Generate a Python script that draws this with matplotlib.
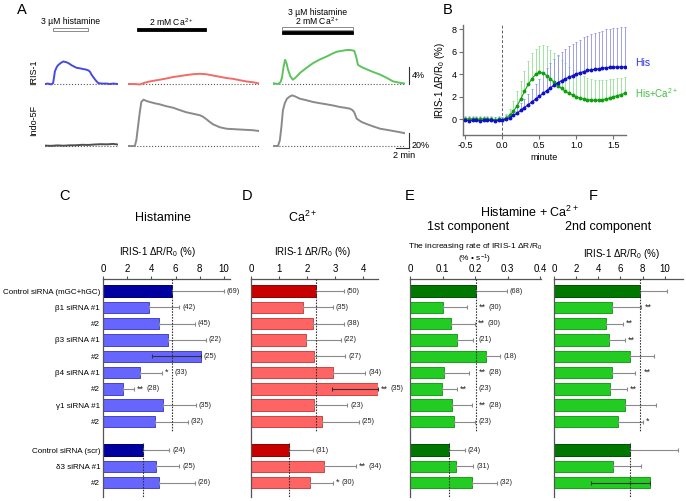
import numpy as np
import matplotlib
matplotlib.use('Agg')
import matplotlib.pyplot as plt
from matplotlib.transforms import blended_transform_factory
from matplotlib.patches import Rectangle

plt.rcParams['font.family'] = ['Liberation Sans', 'DejaVu Sans']
plt.rcParams['mathtext.fontset'] = 'custom'
plt.rcParams['mathtext.rm'] = 'Liberation Sans'
plt.rcParams['mathtext.it'] = 'Liberation Sans:italic'
plt.rcParams['mathtext.default'] = 'regular'

# ---------------- Panel A data (time in min, value in %) ----------------
his_iris_t = [0, 0.5, 1.0, 1.3, 1.45, 1.6, 1.9, 2.15, 2.6, 2.96, 3.5, 3.9, 4.3, 4.7, 5.1, 5.6, 6.2, 6.6, 7.0, 7.3, 7.5, 7.8, 8.1, 8.4, 8.6, 9.2, 9.9, 10.5, 11.0, 11.7]
his_iris_v = [0, 0.1, -0.1, 0.2, 1.5, 3.0, 4.0, 4.5, 5.0, 5.3, 5.1, 4.8, 4.4, 4.1, 3.8, 3.7, 3.5, 3.4, 3.2, 2.8, 2.2, 1.6, 1.0, 0.5, 0.2, 0.1, 0.1, 0.0, 0.1, 0.0]
his_indo_t = [0, 1, 2, 3, 4, 5, 6, 7, 8, 9, 10, 11, 11.7]
his_indo_v = [0.5, 0.2, 0.8, 0.4, 0.9, 1.0, 1.6, 1.4, 2.0, 2.4, 2.2, 2.8, 2.0]

ca_iris_t = [0, 1.0, 1.9, 2.7, 3.5, 4.3, 5.1, 6.2, 7.3, 8.3, 9.4, 10.5, 11.6, 12.6, 13.7, 14.8, 15.9, 17.0, 18.0, 19.1, 20.2, 21.2]
ca_iris_v = [0, 0, -0.1, 0.3, 0.6, 0.8, 1.0, 1.3, 1.65, 1.85, 2.1, 2.3, 2.4, 2.3, 2.0, 1.7, 1.4, 1.2, 0.9, 0.6, 0.4, 0.1]
ca_indo_t = [0, 0.7, 1.1, 1.35, 1.6, 1.9, 2.15, 2.5, 3.0, 3.5, 4.3, 5.1, 6.2, 7.3, 8.3, 9.4, 10.5, 11.6, 12.1, 12.6, 13.2, 13.7, 14.8, 15.9, 17.0, 18.0, 19.1, 20.2, 21.1]
ca_indo_v = [0, 0, 0, 8, 25, 45, 58.7, 61.8, 60, 58.7, 57, 55.6, 53, 51, 48, 45, 43, 41, 39, 36, 32, 29, 25, 23, 22.5, 22, 21.5, 21, 20]

mix_iris_t = [0, 0.8, 1.2, 1.45, 1.7, 1.95, 2.2, 2.4, 2.8, 3.2, 3.7, 4.35, 5.4, 6.45, 7.6, 8.7, 9.5, 10.3, 11.1, 11.9, 12.5, 13.1, 13.4, 13.7, 14.4, 15.2, 16.2, 17.3, 18.4, 19.4, 20.4, 21.3]
mix_iris_v = [0.2, 0, 0.4, 1.5, 4.0, 5.7, 4.8, 3.5, 1.8, 1.0, 1.6, 2.6, 3.8, 4.9, 5.8, 6.5, 7.1, 7.6, 7.8, 8.0, 8.0, 7.8, 6.5, 4.5, 3.9, 3.4, 2.8, 2.2, 1.4, 0.6, 0.3, 0.1]
mix_indo_t = [0, 0.8, 1.1, 1.35, 1.6, 1.9, 2.25, 2.7, 3.1, 3.6, 4.35, 5.4, 6.45, 7.6, 8.7, 9.7, 10.8, 11.6, 12.4, 12.8, 13.1, 13.5, 14.3, 15.2, 16.2, 17.3, 18.4, 19.4, 20.4, 21.3]
mix_indo_v = [0, 0, 7.5, 25, 47.5, 57, 63, 66, 67.5, 66, 63, 61, 58.7, 57, 55.5, 54, 52, 51, 49.8, 48, 45, 36.4, 32, 29, 26, 23, 21.5, 20, 18.5, 17]

# ---------------- Panel B data ----------------
b_time = [-0.50, -0.45, -0.40, -0.35, -0.30, -0.25, -0.20, -0.15, -0.10, -0.05, 0.00,
          0.05, 0.10, 0.15, 0.20, 0.25, 0.30, 0.35, 0.40, 0.45, 0.50, 0.55, 0.60, 0.65,
          0.70, 0.75, 0.80, 0.85, 0.90, 0.95, 1.00, 1.05, 1.10, 1.15, 1.20, 1.25, 1.30,
          1.35, 1.40, 1.45, 1.50, 1.55, 1.60, 1.65]
his_mean = [-0.1, -0.12, -0.08, -0.1, -0.12, -0.1, -0.08, -0.1, -0.12, -0.1, -0.08,
            0.0, 0.15, 0.35, 0.55, 0.8, 1.05, 1.3, 1.55, 1.8, 2.05, 2.3, 2.55, 2.8,
            3.05, 3.25, 3.45, 3.6, 3.75, 3.9, 4.05, 4.15, 4.25, 4.35, 4.4, 4.45, 4.5,
            4.55, 4.6, 4.62, 4.65, 4.65, 4.66, 4.67]
his_sem = [0.3, 0.3, 0.3, 0.3, 0.3, 0.3, 0.3, 0.3, 0.3, 0.3, 0.3,
           0.35, 0.35, 0.45, 0.55, 0.65, 0.75, 0.95, 1.15, 1.35, 1.55, 1.8, 2.05, 2.2,
           2.35, 2.45, 2.55, 2.65, 2.75, 2.8, 2.85, 2.95, 3.05, 3.1, 3.2, 3.25, 3.3,
           3.35, 3.4, 3.43, 3.45, 3.5, 3.54, 3.53]
hisca_mean = [0.05, 0.0, 0.05, 0.02, 0.0, 0.05, 0.02, 0.0, -0.02, 0.0, -0.02,
              0.1, 0.35, 0.7, 1.2, 1.8, 2.5, 3.1, 3.6, 4.0, 4.2, 4.1, 3.9, 3.6,
              3.3, 3.0, 2.75, 2.5, 2.3, 2.15, 2.0, 1.9, 1.8, 1.75, 1.7, 1.7, 1.7,
              1.75, 1.8, 1.9, 2.0, 2.1, 2.2, 2.3]
hisca_sem = [0.25, 0.25, 0.25, 0.25, 0.25, 0.25, 0.25, 0.25, 0.25, 0.25, 0.25,
             0.4, 0.55, 0.9, 1.3, 1.6, 1.8, 2.1, 2.3, 2.3, 2.35, 2.5, 2.6, 2.6,
             2.6, 2.6, 2.55, 2.5, 2.4, 2.25, 2.15, 2.1, 2.05, 1.95, 1.9, 1.8, 1.8,
             1.75, 1.7, 1.65, 1.6, 1.55, 1.5, 1.5]

# ---------------- Panels C-F data ----------------
categories = ["Control siRNA (mGC+hGC)", "\u03b21 siRNA #1", "#2", "\u03b23 siRNA #1", "#2",
              "\u03b24 siRNA #1", "#2", "\u03b31 siRNA #1", "#2",
              "Control siRNA (scr)", "\u03b43 siRNA #1", "#2"]

hist_val = [5.69, 3.79, 4.64, 5.36, 8.1, 3.08, 1.62, 5.0, 4.29, 3.27, 4.37, 4.64]
hist_err = [4.31, 2.51, 2.96, 3.14, -4.04, 1.82, 0.91, 2.66, 2.71, 2.2, 1.93, 2.96]
hist_n = [69, 42, 45, 22, 25, 33, 28, 35, 32, 24, 25, 26]
hist_sig = ["", "", "", "", "", "*", "**", "", "", "", "", ""]

ca_val = [2.32, 1.85, 2.22, 1.96, 2.26, 2.93, 4.53, 2.25, 2.53, 1.34, 2.59, 2.09]
ca_err = [0.99, 1.06, 1.09, 1.24, 1.11, 1.15, -1.65, 1.19, 1.32, 0.86, 1.15, 0.82]
ca_n = [50, 35, 38, 22, 27, 34, 35, 23, 25, 31, 34, 30]
ca_sig = ["", "", "", "", "", "", "**", "", "", "", "**", "*"]

rate_val = [0.203, 0.103, 0.125, 0.146, 0.234, 0.106, 0.098, 0.128, 0.136, 0.12, 0.14, 0.19]
rate_err = [0.094, 0.073, 0.075, 0.049, 0.043, 0.074, 0.046, 0.062, 0.064, 0.049, 0.055, 0.077]
rate_n = [68, 30, 30, 21, 18, 28, 23, 28, 23, 24, 31, 32]
rate_sig = ["", "**", "**", "", "", "**", "**", "**", "", "", "", ""]

second_val = [7.8, 5.2, 4.74, 4.98, 6.9, 5.28, 5.1, 6.4, 5.74, 6.9, 5.35, 8.65]
second_err = [2.4, 2.7, 1.51, 1.42, 2.1, 2.02, 1.5, 2.85, 2.31, 4.3, 2.55, -5.35]
second_sig = ["", "**", "**", "**", "", "**", "**", "", "*", "", "", ""]

# ---------------- figure ----------------
W, H = 686, 501
fig = plt.figure(figsize=(W / 100, H / 100), dpi=100)


def px_box(x0, y0, x1, y1):
    return [x0 / W, 1 - y1 / H, (x1 - x0) / W, (y1 - y0) / H]


ov = fig.add_axes([0, 0, 1, 1], zorder=10)
ov.set_xlim(0, W)
ov.set_ylim(H, 0)
ov.axis('off')

# ---------- Panel A ----------
PX_PER_MIN = 6.2
cols = [
    (45, his_iris_t, his_iris_v, '#4848e6', his_indo_t, his_indo_v, '#505050'),
    (128, ca_iris_t, ca_iris_v, '#f26a6a', ca_indo_t, ca_indo_v, '#8a8a8a'),
    (273, mix_iris_t, mix_iris_v, '#5cc45c', mix_indo_t, mix_indo_v, '#8a8a8a'),
]
iris_axes, indo_axes = [], []
for x0, it, iv, ic, gt, gv, gc in cols:
    dur = it[-1]
    x1 = x0 + dur * PX_PER_MIN
    a1 = fig.add_axes(px_box(x0, 36, x1, 92))
    a1.set_xlim(0, dur)
    a1.set_ylim(-(92 - 84) / 4.25, (84 - 36) / 4.25)
    a1.axhline(0, color='#555555', ls=':', lw=0.8)
    a1.plot(it, iv, color=ic, lw=1.4)
    a1.axis('off')
    a2 = fig.add_axes(px_box(x0, 92, x1, 152))
    a2.set_xlim(0, dur)
    a2.set_ylim(-(152 - 146) / 0.75, (146 - 92) / 0.75)
    a2.axhline(0, color='#555555', ls=':', lw=0.8)
    a2.plot(gt, gv, color=gc, lw=1.4)
    a2.axis('off')
    iris_axes.append(a1)
    indo_axes.append(a2)


def stim_bar(ax, t0, t1, y0, y1, face, edge):
    tr = blended_transform_factory(ax.transData, ov.transData)
    ax.add_patch(Rectangle((t0, y0), t1 - t0, y1 - y0, transform=tr, facecolor=face,
                           edgecolor=edge, lw=0.6, clip_on=False))
    return tr


tr = stim_bar(iris_axes[0], 1.3, 6.9, 27.5, 30.5, 'white', '#777777')
iris_axes[0].text(4.1, 21, '3 \u00b5M histamine', transform=tr, ha='center', va='center', fontsize=6.2)
tr = stim_bar(iris_axes[1], 1.45, 12.6, 27.5, 31, 'black', 'black')
iris_axes[1].text(7.0, 22, '2 mM Ca$^{2+}$', transform=tr, ha='center', va='center', fontsize=6.2)
tr = stim_bar(iris_axes[2], 1.45, 12.9, 26.8, 29.6, 'white', '#777777')
stim_bar(iris_axes[2], 1.45, 12.9, 30.5, 34, 'black', 'black')
iris_axes[2].text(7.2, 12.5, '3 \u00b5M histamine', transform=tr, ha='center', va='center', fontsize=6.2)
iris_axes[2].text(7.2, 21.5, '2 mM Ca$^{2+}$', transform=tr, ha='center', va='center', fontsize=6.2)

# scale bars
ai, ag = iris_axes[2], indo_axes[2]
ai.plot([21.9, 21.9], [0, 4], color='#333333', lw=0.8, clip_on=False)
ai.text(22.4, 2, '4%', fontsize=6.5, va='center', ha='left')
ag.plot([21.9, 21.9], [-3, 17], color='#333333', lw=0.8, clip_on=False)
ag.plot([19.9, 21.9], [-3, -3], color='#333333', lw=0.8, clip_on=False)
ag.text(22.4, 0, '20%', fontsize=6.5, va='center', ha='left')
ag.text(21.2, -7, '2 min', fontsize=6.5, va='top', ha='center')

ov.text(34, 72, 'IRIS-1', rotation=90, fontsize=6.5, ha='center', va='center')
ov.text(34, 120, 'Indo-5F', rotation=90, fontsize=6.5, ha='center', va='center')

# ---------- Panel B ----------
axB = fig.add_axes(px_box(463, 25, 626, 135))
zeros = np.zeros(len(b_time))
axB.errorbar(b_time, hisca_mean, yerr=[zeros, hisca_sem], fmt='none', ecolor='#90e090',
             elinewidth=0.6, capsize=1.0, capthick=0.6, zorder=1)
axB.errorbar(b_time, his_mean, yerr=[zeros, his_sem], fmt='none', ecolor='#9090f0',
             elinewidth=0.6, capsize=1.0, capthick=0.6, zorder=2)
axB.axvline(0, color='#606060', ls=(0, (3, 2)), lw=0.7, zorder=0)
axB.plot(b_time, his_mean, 'o-', color='#1010c8', ms=1.8, lw=0.8, zorder=4)
axB.plot(b_time, hisca_mean, 'o-', color='#10a010', ms=1.8, lw=0.8, zorder=3)
axB.set_xlim(-0.53, 1.67)
axB.set_ylim(-1.4, 8.4)
axB.set_xticks([-0.5, 0.0, 0.5, 1.0, 1.5])
axB.set_xticklabels(['-0.5', '0.0', '0.5', '1.0', '1.5'])
axB.set_yticks([0, 2, 4, 6, 8])
for s in ['top', 'right']:
    axB.spines[s].set_visible(False)
for s in ['left', 'bottom']:
    axB.spines[s].set_color('#707070')
    axB.spines[s].set_linewidth(1.0)
axB.tick_params(direction='out', length=3, width=0.8, color='#707070', labelsize=6.5, pad=1.5)
axB.set_xlabel('minute', fontsize=6.5, labelpad=2)
axB.set_ylabel('IRIS-1 \u0394R/R$_0$ (%)', fontsize=7, labelpad=3)
ov.text(635, 63, 'His', color='#3030e0', fontsize=7.5, ha='left', va='center')
ov.text(635, 93, 'His+Ca$^{2+}$', color='#40c040', fontsize=7, ha='left', va='center')

# ---------- Panels C-F ----------
ypos = np.r_[np.arange(9), np.arange(3) + 9.75]
YTOP, YBOT = -0.74, 12.63
renderer = fig.canvas.get_renderer()


def bar_panel(box, vals, errs, ns, sigs, xmax, ticks, ticklabels, dark, light, edark, elight, show_cats):
    ax = fig.add_axes(px_box(*box))
    colors = [dark if i in (0, 9) else light for i in range(len(vals))]
    edges = [edark if i in (0, 9) else elight for i in range(len(vals))]
    ax.barh(ypos, vals, height=0.7, color=colors, edgecolor=edges, linewidth=0.7, zorder=2)
    for v, e, y in zip(vals, errs, ypos):
        lo, hi = (0, e) if e >= 0 else (-e, 0)
        ec = '#8a8a8a' if e >= 0 else '#333333'
        ax.errorbar(v, y, xerr=[[lo], [hi]], fmt='none', ecolor=ec, elinewidth=0.8,
                    capsize=1.6, capthick=0.8, zorder=3)
    ax.set_xlim(0, xmax)
    ax.set_ylim(YBOT, YTOP)
    for s in ['right', 'bottom']:
        ax.spines[s].set_visible(False)
    for s in ['top', 'left']:
        ax.spines[s].set_color('#555555')
        ax.spines[s].set_linewidth(0.9)
    ax.xaxis.tick_top()
    ax.set_xticks(ticks)
    ax.set_xticklabels(ticklabels)
    ax.tick_params(axis='x', direction='out', length=2.5, width=0.8, color='#555555', labelsize=7, pad=1)
    ax.set_yticks(ypos)
    if show_cats:
        ax.set_yticklabels(categories, fontsize=5.8)
        ax.tick_params(axis='y', length=0, pad=2)
    else:
        ax.set_yticklabels([])
        ax.tick_params(axis='y', length=0)
    r1, r2 = vals[0], vals[9]
    ax.plot([r1, r1], [YTOP, 8.58], ls=(0, (1.4, 1.2)), color='#303030', lw=0.8, clip_on=False, zorder=4)
    ax.plot([r2, r2], [9.3, YBOT], ls=(0, (1.4, 1.2)), color='#303030', lw=0.8, clip_on=False, zorder=4)
    refs = [r1] * 9 + [r2] * 3
    for i, (v, e, n, s) in enumerate(zip(vals, errs, ns, sigs)):
        xe = max(v, v + e)
        xd, yd = ax.transData.transform((xe, ypos[i]))
        xref = ax.transData.transform((refs[i], ypos[i]))[0]
        cur = xd + 3
        pieces = []
        if s:
            pieces.append((s, 6.5))
        if n is not None:
            pieces.append(('(%d)' % n, 5.2))
        for txt, fs in pieces:
            t = fig.text(cur / W, yd / H, txt, fontsize=fs, va='center', ha='left', color='#222222')
            w = t.get_window_extent(renderer).width
            if cur < xref + 1 and cur + w > xref - 1:
                cur = xref + 3
                t.set_x(cur / W)
            cur += w + 2.5
    return ax


axC = bar_panel((103, 279, 230, 497), hist_val, hist_err, hist_n, hist_sig, 10.5,
                [0, 2, 4, 6, 8, 10], ['0', '2', '4', '6', '8', '10'],
                '#0000a0', '#6666ff', '#000070', '#4444cc', True)
axD = bar_panel((251, 279, 378, 497), ca_val, ca_err, ca_n, ca_sig, 4.53,
                [0, 1, 2, 3, 4], ['0', '1', '2', '3', '4'],
                '#c80000', '#ff6464', '#900000', '#cc4444', False)
axE = bar_panel((410, 279, 541, 497), rate_val, rate_err, rate_n, rate_sig, 0.403,
                [0, 0.1, 0.2, 0.3, 0.4], ['0', '0.1', '0.2', '0.3', '0.4'],
                '#007800', '#22cc22', '#005000', '#18a018', False)
axF = bar_panel((554, 279, 683, 497), second_val, second_err, [None] * 12, second_sig, 11.65,
                [0, 2, 4, 6, 8, 10], ['0', '2', '4', '6', '8', '10'],
                '#007800', '#22cc22', '#005000', '#18a018', False)

# axis labels / titles
lab = 'IRIS-1 \u0394R/R$_0$ (%)'
ov.text(158, 252, lab, fontsize=7, ha='center', va='center')
ov.text(313, 252, lab, fontsize=7, ha='center', va='center')
ov.text(622, 254, lab, fontsize=7, ha='center', va='center')
ov.text(475, 246, 'The increasing rate of IRIS-1 \u0394R/R$_0$', fontsize=6, ha='center', va='center')
ov.text(475, 259, '(% \u2022 s$^{-1}$)', fontsize=6, ha='center', va='center')

ov.text(163, 218, 'Histamine', fontsize=9, ha='center', va='center')
ov.text(303, 217, 'Ca$^{2+}$', fontsize=9, ha='center', va='center')
ov.text(529, 212, 'Histamine + Ca$^{2+}$', fontsize=9, ha='center', va='center')
ov.text(468, 227, '1st component', fontsize=9, ha='center', va='center')
ov.text(608, 227, '2nd component', fontsize=9, ha='center', va='center')

# panel letters
for letter, x, y in [('A', 22, 10), ('B', 448, 10), ('C', 65, 196), ('D', 247, 196),
                     ('E', 410, 196), ('F', 593, 196)]:
    ov.text(x, y, letter, fontsize=10.5, ha='center', va='center')

fig.savefig('out.png', dpi=100)
